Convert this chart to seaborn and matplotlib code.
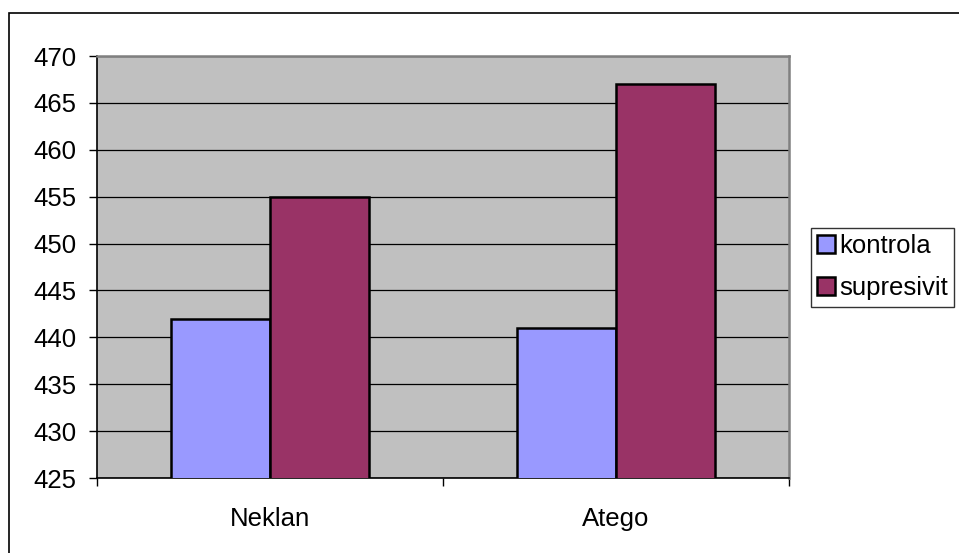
import matplotlib
matplotlib.use("Agg")
import matplotlib.pyplot as plt
import matplotlib.patches as mpatches
from matplotlib.ticker import FixedLocator, MultipleLocator
import seaborn as sns
import pandas as pd

# Data
categories = ["Neklan", "Atego"]
series_names = ["kontrola", "supresivit"]
kontrola = [442, 441]
supresivit = [455, 467]
colors = ["#9999FF", "#993366"]

df = pd.DataFrame({
    "category": categories * 2,
    "series": [series_names[0]] * 2 + [series_names[1]] * 2,
    "value": kontrola + supresivit,
})

sns.set_theme(style="white")
plt.rcParams["font.family"] = ["Liberation Sans", "DejaVu Sans"]

FS = 18.5

fig = plt.figure(figsize=(9.59, 5.53), dpi=100)
ax = fig.add_axes([97 / 959, 1 - 478 / 553, (789 - 97) / 959, (478 - 56) / 553])
ax.set_facecolor("#C0C0C0")

sns.barplot(
    data=df, x="category", y="value", hue="series",
    order=categories, hue_order=series_names, palette=colors,
    width=2 / 3.5, edgecolor="black", linewidth=1.8, saturation=1,
    legend=False, ax=ax, zorder=3,
)

ax.set_ylim(425, 470)
ax.set_xlim(-0.5, 1.5)
ax.yaxis.set_major_locator(MultipleLocator(5))
ax.grid(axis="y", color="black", linewidth=0.9, zorder=1)
ax.set_axisbelow(True)
ax.set_xlabel("")
ax.set_ylabel("")

# Spines: black axes on left/bottom, grey frame elsewhere
for side in ["left", "bottom"]:
    ax.spines[side].set_color("black")
    ax.spines[side].set_linewidth(1.2)
for side in ["top", "right"]:
    ax.spines[side].set_color("#808080")
    ax.spines[side].set_linewidth(1.8)

ax.tick_params(axis="y", which="major", direction="out", length=6, width=1,
               color="black", labelsize=FS, pad=9, left=True)
ax.tick_params(axis="x", which="major", length=0, labelsize=FS, pad=21)
ax.xaxis.set_minor_locator(FixedLocator([-0.5, 0.5, 1.5]))
ax.tick_params(axis="x", which="minor", direction="out", length=6, width=1,
               color="black", bottom=True)
for lbl in ax.get_yticklabels() + ax.get_xticklabels():
    lbl.set_color("black")

# Legend
handles = [mpatches.Patch(facecolor=c, edgecolor="black", linewidth=1.8, label=n)
           for c, n in zip(colors, series_names)]
leg = fig.legend(
    handles=handles, loc="upper left",
    bbox_to_anchor=(811 / 959, 1 - 228 / 553),
    frameon=True, fancybox=False, fontsize=FS,
    handlelength=0.7, handleheight=0.7, handletextpad=0.15,
    borderpad=0.25, labelspacing=0.7, borderaxespad=0,
)
leg.get_frame().set_edgecolor("black")
leg.get_frame().set_linewidth(1.0)
for t in leg.get_texts():
    t.set_color("black")

# Outer chart frame (left and top edges visible)
fig.patches.append(mpatches.Rectangle(
    (9 / 959, -0.1), 1.2, 1 - 13 / 553 + 0.1, transform=fig.transFigure,
    fill=False, edgecolor="black", linewidth=1.2, figure=fig))

fig.savefig("out.png", dpi=100, facecolor="white")
